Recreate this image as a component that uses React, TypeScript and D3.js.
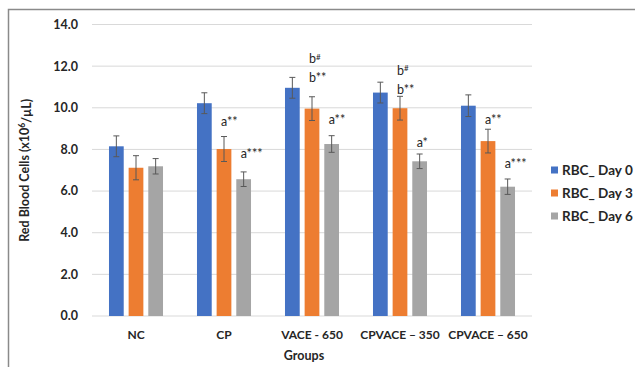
import * as d3 from "d3";

const groups = ["NC", "CP", "VACE - 650", "CPVACE \u2013 350", "CPVACE \u2013 650"];
const seriesNames = ["RBC_ Day 0", "RBC_ Day 3", "RBC_ Day 6"];
const seriesColors = ["#4472C4", "#ED7D31", "#A5A5A5"];

const day0 = [8.15, 10.22, 10.96, 10.73, 10.1];
const day3 = [7.12, 8.02, 9.96, 9.98, 8.4];
const day6 = [7.19, 6.57, 8.26, 7.43, 6.21];
const err0 = [0.5, 0.5, 0.5, 0.5, 0.52];
const err3 = [0.58, 0.6, 0.57, 0.57, 0.57];
const err6 = [0.37, 0.35, 0.4, 0.35, 0.37];

const yTicks = [0, 2, 4, 6, 8, 10, 12, 14];

// significance marks: group, series, text, superscript, height (data units)
const notes = [
  { group: 1, series: 1, text: "a**", sup: "", at: 9.33 },
  { group: 1, series: 2, text: "a***", sup: "", at: 7.81 },
  { group: 2, series: 1, text: "b", sup: "#", at: 12.34 },
  { group: 2, series: 1, text: "b**", sup: "", at: 11.46 },
  { group: 2, series: 2, text: "a**", sup: "", at: 9.41 },
  { group: 3, series: 1, text: "b", sup: "#", at: 11.78 },
  { group: 3, series: 1, text: "b**", sup: "", at: 10.89 },
  { group: 3, series: 2, text: "a*", sup: "", at: 8.32 },
  { group: 4, series: 1, text: "a**", sup: "", at: 9.45 },
  { group: 4, series: 2, text: "a***", sup: "", at: 7.3 },
];

const width = 635;
const height = 367;
const margin = { top: 24.5, right: 103, bottom: 51, left: 92 };
const font = "Lato, 'Open Sans', sans-serif";
const ink = "#262626";

export default function App() {
  const values = [day0, day3, day6];
  const errors = [err0, err3, err6];
  const plotRight = width - margin.right;
  const plotBottom = height - margin.bottom;

  const x = d3
    .scaleBand<number>()
    .domain(d3.range(groups.length))
    .range([margin.left, plotRight])
    .paddingInner(0.386)
    .paddingOuter(0.193);
  const xInner = d3
    .scaleBand<number>()
    .domain(d3.range(seriesNames.length))
    .range([0, x.bandwidth()])
    .paddingInner(0.25);
  const y = d3.scaleLinear().domain([0, 14]).range([plotBottom, margin.top]);

  const barCenter = (g: number, s: number) =>
    (x(g) as number) + (xInner(s) as number) + xInner.bandwidth() / 2;

  return (
    <div style={{ position: "absolute", left: 0, top: 0 }}>
      <svg width={width} height={height} style={{ display: "block", background: "#fff" }} fontFamily={font}>
        <rect x={8.5} y={9.5} width={700} height={400} fill="#fff" stroke="#8a8a8a" strokeWidth={1.5} />

        {yTicks.map((t) => (
          <g key={t}>
            <line x1={margin.left} x2={plotRight} y1={y(t)} y2={y(t)} stroke="#d9d9d9" strokeWidth={1} />
            <text x={78} y={y(t)} dy="0.35em" textAnchor="end" fontSize={12.5} fontWeight={700} fill={ink}>
              {t.toFixed(1)}
            </text>
          </g>
        ))}

        {values.map((vals, s) =>
          vals.map((v, g) => (
            <rect
              key={`${s}-${g}`}
              x={(x(g) as number) + (xInner(s) as number)}
              y={y(v)}
              width={xInner.bandwidth()}
              height={plotBottom - y(v)}
              fill={seriesColors[s]}
            />
          ))
        )}

        {values.map((vals, s) =>
          vals.map((v, g) => {
            const cx = barCenter(g, s);
            const e = errors[s][g];
            return (
              <g key={`e${s}-${g}`} stroke="#595959" strokeWidth={1}>
                <line x1={cx} x2={cx} y1={y(v + e)} y2={y(v - e)} />
                <line x1={cx - 3} x2={cx + 3} y1={y(v + e)} y2={y(v + e)} />
                <line x1={cx - 3} x2={cx + 3} y1={y(v - e)} y2={y(v - e)} />
              </g>
            );
          })
        )}

        {notes.map((n, i) => (
          <text
            key={`n${i}`}
            x={barCenter(n.group, n.series) - 3}
            y={y(n.at)}
            dy="0.35em"
            fontSize={12.5}
            fill={ink}
          >
            {n.text}
            {n.sup && (
              <tspan fontSize={8} dy="-0.45em">
                {n.sup}
              </tspan>
            )}
          </text>
        ))}

        {groups.map((name, g) => (
          <text
            key={name}
            x={(x(g) as number) + x.bandwidth() / 2}
            y={335}
            dy="0.35em"
            textAnchor="middle"
            fontSize={12}
            fontWeight={700}
            fill={ink}
          >
            {name}
          </text>
        ))}

        <text x={304} y={356} dy="0.35em" textAnchor="middle" fontSize={12.5} fontWeight={700} fill={ink}>
          Groups
        </text>

        <text
          transform={`translate(25, ${(margin.top + plotBottom) / 2}) rotate(-90)`}
          dy="0.35em"
          textAnchor="middle"
          fontSize={12.5}
          fontWeight={700}
          fill={ink}
        >
          Red Blood Cells (x10
          <tspan fontSize={8.5} dy="-0.5em">6</tspan>
          <tspan dy="0.5em">/µL)</tspan>
        </text>

        {seriesNames.map((name, s) => (
          <g key={name} transform={`translate(551, ${170 + s * 23})`}>
            <rect x={0} y={-3.5} width={7} height={7} fill={seriesColors[s]} />
            <text x={11} y={0} dy="0.35em" fontSize={13.5} fontWeight={700} fill={ink}>
              {name}
            </text>
          </g>
        ))}
      </svg>
    </div>
  );
}
